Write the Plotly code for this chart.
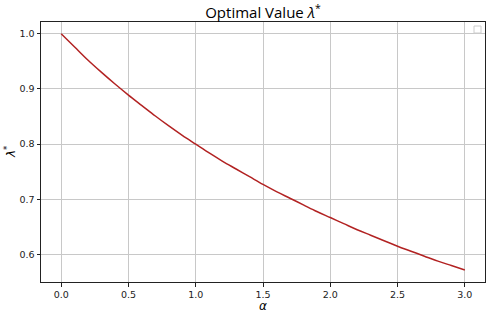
import plotly.graph_objects as go

alpha = [0.0, 0.1, 0.2, 0.3, 0.4, 0.5, 0.6, 0.7, 0.8, 0.9, 1.0,
         1.1, 1.2, 1.3, 1.4, 1.5, 1.6, 1.7, 1.8, 1.9, 2.0,
         2.1, 2.2, 2.3, 2.4, 2.5, 2.6, 2.7, 2.8, 2.9, 3.0]
lam = [1.000, 0.976, 0.952, 0.930, 0.909, 0.889, 0.870, 0.851, 0.833, 0.816, 0.800,
       0.784, 0.769, 0.755, 0.741, 0.727, 0.714, 0.702, 0.690, 0.678, 0.667,
       0.656, 0.645, 0.635, 0.625, 0.615, 0.606, 0.597, 0.588, 0.580, 0.572]
x_ticks = [0.0, 0.5, 1.0, 1.5, 2.0, 2.5, 3.0]
y_ticks = [0.6, 0.7, 0.8, 0.9, 1.0]

L, R, T, B = 41, 6, 22, 35
W, H = 491, 317
pw, ph = W - L - R, H - T - B

fig = go.Figure()
fig.add_trace(go.Scatter(x=alpha, y=lam, mode="lines", line=dict(color="#B22222", width=1.5),
                         showlegend=False, line_shape="spline"))

axis_common = dict(showline=True, linecolor="#222", linewidth=1, mirror=True,
                   showgrid=True, gridcolor="#c8c8c8", gridwidth=1, zeroline=False,
                   ticks="outside", ticklen=3.5, tickcolor="#222", automargin=False,
                   tickfont=dict(family="DejaVu Sans", size=9.5, color="#222"))

fig.update_layout(
    width=W, height=H,
    margin=dict(l=L, r=R, t=T, b=B),
    paper_bgcolor="white", plot_bgcolor="white",
    title=dict(text="Optimal Value <i>λ</i><sup>*</sup>", x=(L + W - R) / 2 / W, xanchor="center",
               y=1 - 13 / H, yanchor="middle",
               font=dict(family="Open Sans", size=15, color="black")),
    xaxis=dict(range=[-0.15, 3.15], tickvals=x_ticks, ticktext=[f"{v:.1f}" for v in x_ticks],
               **axis_common),
    yaxis=dict(range=[0.5502, 1.0214], tickvals=y_ticks, ticktext=[f"{v:.1f}" for v in y_ticks],
               **axis_common),
)

# axis titles
fig.add_annotation(text="<i>α</i>", xref="paper", yref="paper", x=0.5, y=-(306 - (H - B)) / ph,
                   xanchor="center", yanchor="middle", showarrow=False,
                   font=dict(family="DejaVu Sans", size=12, color="black"))
fig.add_annotation(text="<i>λ</i><sup>*</sup>", xref="paper", yref="paper", x=-(L - 10) / pw, y=0.5,
                   xanchor="center", yanchor="middle", showarrow=False, textangle=-90,
                   font=dict(family="DejaVu Sans", size=12, color="black"))

# empty legend box in the upper-right corner
fig.add_shape(type="rect", xref="paper", yref="paper",
              x0=1 - 11 / pw, x1=1 - 4 / pw, y0=1 - 11 / ph, y1=1 - 4 / ph,
              line=dict(color="#cccccc", width=1), fillcolor="white")

fig.write_html("out.html", config={"displayModeBar": False},
               post_script="document.body.style.margin='0';document.body.style.overflow='hidden';")
